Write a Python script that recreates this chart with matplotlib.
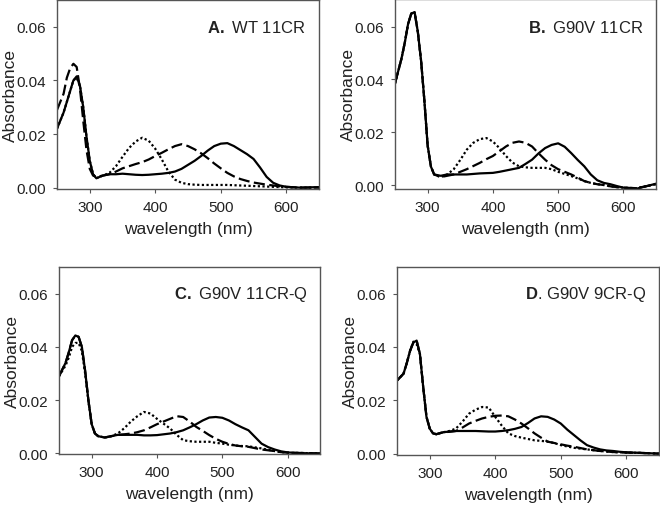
import numpy as np
import matplotlib
matplotlib.use("Agg")
import matplotlib.pyplot as plt

plt.rcParams['font.family'] = ['Liberation Sans', 'DejaVu Sans']
plt.rcParams['mathtext.fontset'] = 'custom'
plt.rcParams['mathtext.rm'] = 'Liberation Sans'
plt.rcParams['mathtext.bf'] = 'Liberation Sans:bold'

# wavelength grid (nm) the values were read at
wl = [250, 260, 265, 270, 275, 280, 285, 290, 295, 300, 305, 310,
      320, 330, 340, 350, 360, 370, 380, 390, 400, 410, 420, 430, 440,
      450, 460, 470, 480, 490, 500, 510, 520, 530, 540, 550, 560, 570,
      580, 590, 600, 620, 650]

# A. WT 11CR
a_dotted = [0.022, 0.028, 0.032, 0.036, 0.040, 0.041, 0.038, 0.030, 0.019, 0.010, 0.005, 0.0035,
            0.0045, 0.0055, 0.008, 0.0115, 0.0148, 0.0172, 0.0186, 0.0175, 0.0145, 0.0105, 0.006, 0.003, 0.0018,
            0.0013, 0.0011, 0.001, 0.001, 0.001, 0.001, 0.001, 0.0009, 0.0008, 0.0007, 0.0006, 0.0005, 0.0004,
            0.0003, 0.0002, 0.0001, 0.0, 0.0]
a_dashed = [0.029, 0.035, 0.041, 0.0445, 0.0462, 0.045, 0.037, 0.025, 0.014, 0.007, 0.0045, 0.004,
            0.0045, 0.005, 0.006, 0.0072, 0.008, 0.0088, 0.0095, 0.0105, 0.0118, 0.013, 0.0143, 0.0155, 0.0162,
            0.0155, 0.0143, 0.0128, 0.011, 0.009, 0.0072, 0.0055, 0.0042, 0.0032, 0.0025, 0.0019, 0.0015, 0.0011,
            0.0008, 0.0005, 0.0003, 0.0, 0.0]
a_solid = [0.022, 0.028, 0.032, 0.036, 0.040, 0.0415, 0.038, 0.030, 0.019, 0.010, 0.005, 0.0035,
           0.0045, 0.005, 0.005, 0.0052, 0.005, 0.0048, 0.0047, 0.0048, 0.005, 0.0052, 0.0055, 0.006, 0.007,
           0.0085, 0.010, 0.0118, 0.0138, 0.0155, 0.0164, 0.0166, 0.0155, 0.014, 0.0125, 0.0107, 0.0075, 0.004,
           0.0018, 0.0008, 0.0003, 0.0, 0.0002]

# B. G90V 11CR
b_dotted = [0.0385, 0.048, 0.054, 0.061, 0.065, 0.0655, 0.058, 0.047, 0.032, 0.015, 0.007, 0.004,
            0.003, 0.004, 0.006, 0.0095, 0.0134, 0.016, 0.0174, 0.0178, 0.0165, 0.014, 0.011, 0.0085, 0.0071,
            0.0067, 0.0065, 0.0065, 0.0065, 0.006, 0.005, 0.0042, 0.0034, 0.0025, 0.0015, 0.0008, 0.0003, 0.0,
            -0.0005, -0.0008, -0.001, -0.0012, 0.0003]
b_dashed = [0.0385, 0.048, 0.054, 0.061, 0.065, 0.0655, 0.058, 0.047, 0.032, 0.015, 0.007, 0.004,
            0.003, 0.0035, 0.004, 0.005, 0.006, 0.0072, 0.0084, 0.0098, 0.011, 0.0128, 0.0146, 0.016, 0.0165,
            0.016, 0.0146, 0.012, 0.0096, 0.0075, 0.006, 0.005, 0.004, 0.0028, 0.0015, 0.0008, 0.0003, 0.0,
            -0.0005, -0.0008, -0.001, -0.0012, 0.0003]
b_solid = [0.0385, 0.048, 0.054, 0.061, 0.065, 0.0655, 0.058, 0.047, 0.032, 0.015, 0.007, 0.004,
           0.0035, 0.004, 0.004, 0.004, 0.004, 0.0042, 0.0044, 0.0045, 0.0046, 0.005, 0.0055, 0.006, 0.0065,
           0.008, 0.0096, 0.012, 0.014, 0.0152, 0.0158, 0.0145, 0.0121, 0.0095, 0.0071, 0.004, 0.0018, 0.0008,
           0.0003, -0.0004, -0.001, -0.0014, 0.0005]

# C. G90V 11CR-Q
c_dotted = [0.029, 0.033, 0.036, 0.040, 0.0415, 0.0415, 0.0385, 0.030, 0.0195, 0.011, 0.0075, 0.0065,
            0.006, 0.0065, 0.0075, 0.0095, 0.012, 0.014, 0.0156, 0.015, 0.013, 0.0112, 0.0094, 0.007, 0.005,
            0.0046, 0.0044, 0.0044, 0.0044, 0.004, 0.0037, 0.0033, 0.003, 0.0028, 0.0027, 0.0023, 0.0019, 0.0014,
            0.0009, 0.0005, 0.0003, 0.0002, 0.0]
c_dashed = [0.029, 0.034, 0.038, 0.0425, 0.0443, 0.0438, 0.040, 0.031, 0.020, 0.011, 0.0075, 0.0065,
            0.006, 0.0065, 0.007, 0.0072, 0.0075, 0.008, 0.0087, 0.0098, 0.011, 0.012, 0.013, 0.014, 0.0137,
            0.012, 0.010, 0.0085, 0.0069, 0.0055, 0.0044, 0.0036, 0.003, 0.0027, 0.0025, 0.002, 0.0015, 0.0012,
            0.0009, 0.0005, 0.0003, 0.0002, 0.0]
c_solid = [0.029, 0.034, 0.038, 0.0425, 0.0443, 0.0438, 0.040, 0.031, 0.020, 0.011, 0.0075, 0.0065,
           0.006, 0.0065, 0.007, 0.007, 0.007, 0.007, 0.0068, 0.0068, 0.0069, 0.0072, 0.0075, 0.008, 0.0087,
           0.0098, 0.011, 0.0124, 0.0135, 0.0137, 0.0134, 0.0124, 0.011, 0.0098, 0.0087, 0.0062, 0.0037, 0.0024,
           0.0015, 0.0008, 0.0004, 0.0001, 0.0]

# D. G90V 9CR-Q
d_dotted = [0.0274, 0.030, 0.034, 0.0386, 0.042, 0.041, 0.0374, 0.025, 0.0138, 0.0094, 0.0076, 0.0073,
            0.008, 0.0085, 0.0094, 0.012, 0.015, 0.0165, 0.0175, 0.0173, 0.0138, 0.0105, 0.0076, 0.0066, 0.006,
            0.0055, 0.005, 0.0048, 0.0045, 0.004, 0.0032, 0.0027, 0.0022, 0.0019, 0.0016, 0.0013, 0.001, 0.0008,
            0.0006, 0.0005, 0.0004, 0.0003, 0.0]
d_dashed = [0.0274, 0.030, 0.034, 0.0386, 0.0417, 0.0424, 0.0374, 0.025, 0.0138, 0.0094, 0.0076, 0.0073,
            0.008, 0.0082, 0.0085, 0.0098, 0.0113, 0.0123, 0.0132, 0.0138, 0.0142, 0.0143, 0.014, 0.0128, 0.0113,
            0.0095, 0.0076, 0.006, 0.0045, 0.004, 0.0035, 0.003, 0.0026, 0.0021, 0.0016, 0.0013, 0.001, 0.0008,
            0.0006, 0.0005, 0.0004, 0.0003, 0.0]
d_solid = [0.0274, 0.030, 0.034, 0.0386, 0.0417, 0.0424, 0.0374, 0.025, 0.0138, 0.0094, 0.0076, 0.0073,
           0.008, 0.0083, 0.0085, 0.0085, 0.0085, 0.0085, 0.0084, 0.0083, 0.0083, 0.0085, 0.0088, 0.0093, 0.010,
           0.0115, 0.0132, 0.014, 0.0138, 0.0128, 0.0113, 0.009, 0.007, 0.005, 0.0032, 0.0023, 0.0016, 0.0012,
           0.001, 0.0007, 0.0005, 0.0003, 0.0]

panel_titles = [r"$\mathbf{A.}$ WT 11CR", r"$\mathbf{B.}$ G90V 11CR",
                r"$\mathbf{C.}$ G90V 11CR-Q", r"$\mathbf{D}$. G90V 9CR-Q"]
panel_data = [(a_solid, a_dashed, a_dotted), (b_solid, b_dashed, b_dotted),
              (c_solid, c_dashed, c_dotted), (d_solid, d_dashed, d_dotted)]
panel_ylim = [(-0.0005, 0.0700), (-0.0015, 0.0705), (-0.0002, 0.0700), (-0.0005, 0.0700)]

# axes boxes in figure fraction: left, bottom, width, height
boxes = [[0.0864, 0.6275, 0.397, 0.3706],
         [0.5985, 0.6275, 0.3955, 0.3725],
         [0.0894, 0.1078, 0.396, 0.3667],
         [0.6015, 0.1059, 0.397, 0.3686]]

styles = ['-', (0, (5, 2)), (0, (1, 1.1))]
frame_col = '#555555'

fig = plt.figure(figsize=(6.6, 5.1), dpi=100)
for box, title, series, ylim in zip(boxes, panel_titles, panel_data, panel_ylim):
    ax = fig.add_axes(box)
    for vals, ls in zip(series, styles):
        ax.plot(wl, vals, color='black', linestyle=ls, linewidth=1.6)
    ax.set_xlim(250, 650)
    ax.set_ylim(*ylim)
    ax.set_xticks([300, 400, 500, 600])
    ax.set_yticks([0.0, 0.02, 0.04, 0.06])
    ax.set_yticklabels(['0.00', '0.02', '0.04', '0.06'])
    ax.tick_params(direction='out', length=3, width=0.8, pad=5,
                   labelsize=11, color=frame_col, labelcolor='#222222')
    for sp in ax.spines.values():
        sp.set_color(frame_col)
        sp.set_linewidth(1.0)
    ax.set_xlabel('wavelength (nm)', fontsize=12.5, color='#222222', labelpad=5)
    ax.set_ylabel('Absorbance', fontsize=12.5, color='#222222')
    ax.yaxis.set_label_coords(-0.15, 0.5)
    ax.text(0.95, 0.06, title, transform=ax.get_yaxis_transform(),
            ha='right', va='center', fontsize=12, color='#222222')

fig.savefig('out.png', dpi=100)
